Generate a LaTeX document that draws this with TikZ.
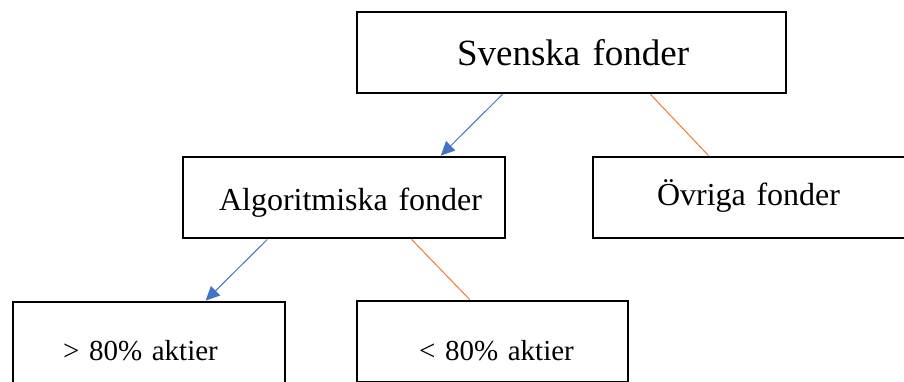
\documentclass[tikz,border=0pt]{standalone}
\usepackage{fontspec}
\setmainfont{Liberation Serif}
\usetikzlibrary{arrows.meta,calc}
\definecolor{offblue}{HTML}{4472C4}
\definecolor{offorange}{HTML}{ED7D31}
\tikzset{
  box/.style={draw=black, line width=2.8pt, fill=white, inner sep=0pt, align=left, minimum height=81pt},
  bluearrow/.style={draw=offblue, line width=1pt, -{Triangle[length=14pt,width=13pt]}},
  orangeline/.style={draw=offorange, line width=1pt},
}
\newcommand{\lowtext}[3]{\hspace*{#1}\raisebox{#2}[0pt][0pt]{#3}}
\begin{document}
\begin{tikzpicture}[x=1pt,y=-1pt]
\clip (0,0) rectangle (904,381);
\fill[white] (0,0) rectangle (904,381);
\node[box, text width=429pt, font=\fontsize{37}{40}\selectfont] (S) at (571.5,52.5) {\lowtext{100pt}{-12.5pt}{Svenska fonder}};
\node[box, text width=322pt, font=\fontsize{32}{36}\selectfont] (A) at (344,197.5) {\lowtext{36pt}{-12.5pt}{Algoritmiska fonder}};
\node[box, text width=322pt, font=\fontsize{32}{36}\selectfont] (O) at (754,197.5) {\lowtext{64pt}{-7.5pt}{Övriga fonder}};
\node[box, text width=272pt, font=\fontsize{29}{32}\selectfont] (L1) at (149,342.5) {\lowtext{50pt}{-17.5pt}{> 80\% aktier}};
\node[box, text width=271pt, font=\fontsize{29}{32}\selectfont] (L2) at (492.5,341.5) {\lowtext{62pt}{-18.5pt}{< 80\% aktier}};
\draw[bluearrow] ($(S.south west)!0.34!(S.south east)$) -- ($(A.north west)!0.798!(A.north east)$);
\draw[orangeline] ($(S.south west)!0.683!(S.south east)$) -- ($(O.north west)!0.36!(O.north east)$);
\draw[bluearrow] ($(A.south west)!0.264!(A.south east)$) -- ($(L1.north west)!0.706!(L1.north east)$);
\draw[orangeline] ($(A.south west)!0.708!(A.south east)$) -- ($(L2.north west)!0.417!(L2.north east)$);
\end{tikzpicture}
\end{document}
